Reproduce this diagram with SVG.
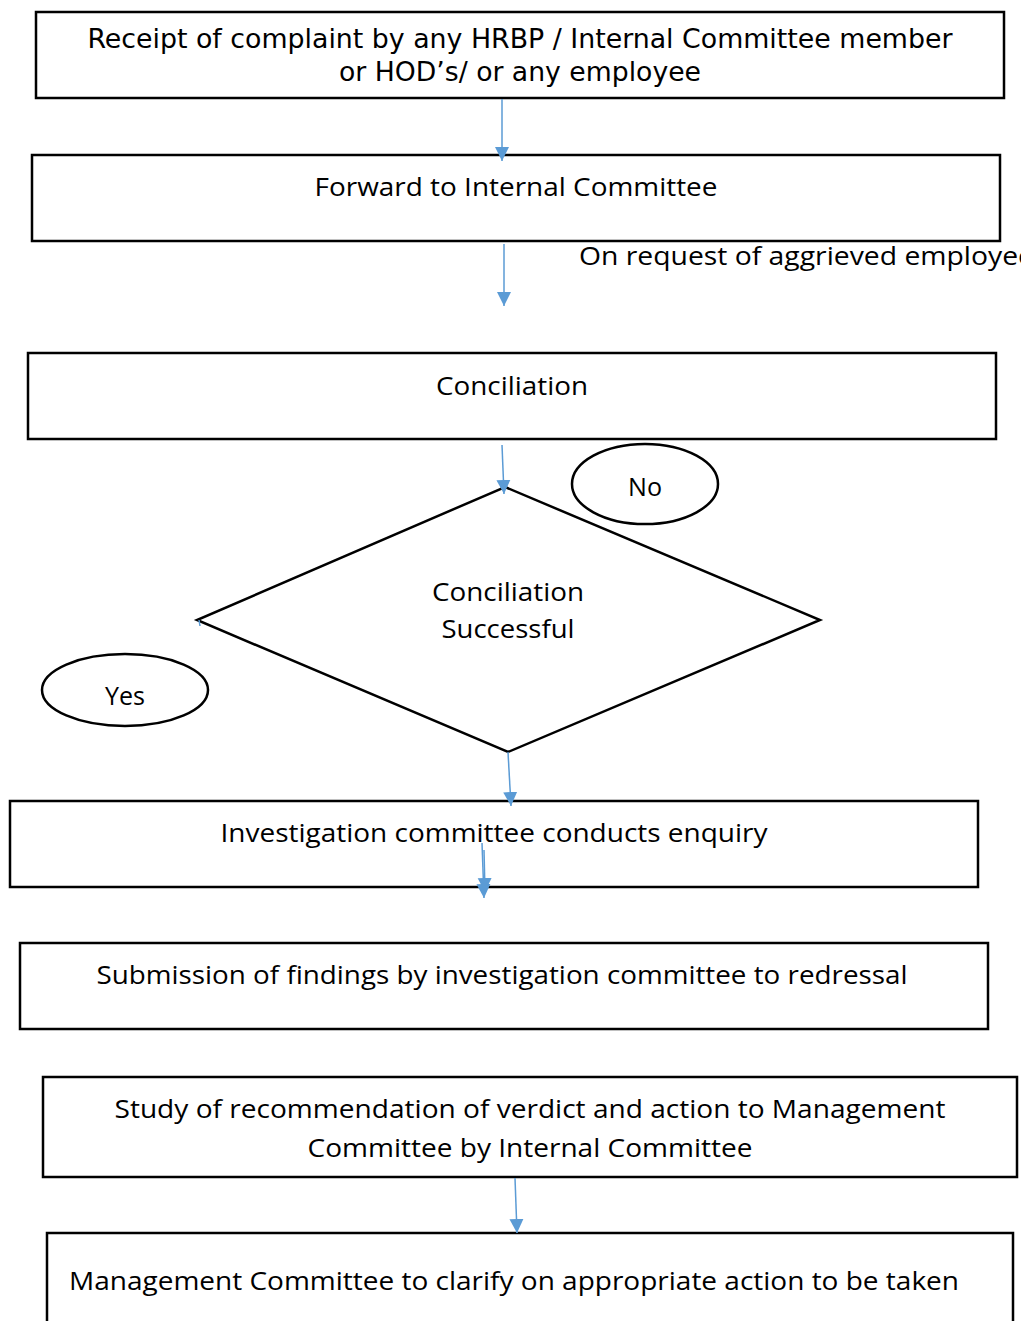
<svg xmlns="http://www.w3.org/2000/svg" width="1021" height="1321" viewBox="0 0 1021 1321">
<style>
.box{fill:#fff;stroke:#000;stroke-width:2.5}
.t{font-family:"Open Sans","Liberation Sans",sans-serif;font-size:26px;fill:#000;text-anchor:middle}
.v{font-family:"DejaVu Sans Condensed","DejaVu Sans",sans-serif;font-size:26px;fill:#000;text-anchor:middle}
.c{stroke:#5B9BD5;stroke-width:1.5;fill:none;marker-end:url(#ah)}
</style>
<defs>
<marker id="ah" markerWidth="14" markerHeight="15" refX="10" refY="5" orient="auto" markerUnits="userSpaceOnUse" viewBox="0 0 10 10">
<path d="M0,0 L10,5 L0,10 z" fill="#5B9BD5"/>
</marker>
</defs>
<rect width="1021" height="1321" fill="#fff"/>
<g id="n1"><rect class="box" x="36" y="12" width="968" height="86"/>
<text class="v" x="520" y="48" textLength="865" lengthAdjust="spacingAndGlyphs">Receipt of complaint by any HRBP / Internal Committee member</text>
<text class="v" x="520" y="81" textLength="362" lengthAdjust="spacingAndGlyphs">or HOD’s/ or any employee</text></g>
<g id="n2"><rect class="box" x="32" y="155" width="968" height="86"/>
<text class="t" x="516" y="196" textLength="403" lengthAdjust="spacingAndGlyphs">Forward to Internal Committee</text></g>
<g id="lbl"><text class="t" x="579" y="265" style="text-anchor:start" textLength="455" lengthAdjust="spacingAndGlyphs">On request of aggrieved employee</text></g>
<g id="n3"><rect class="box" x="28" y="353" width="968" height="86"/>
<text class="t" x="512" y="395" textLength="152" lengthAdjust="spacingAndGlyphs">Conciliation</text></g>
<g id="n4"><polygon class="box" points="505,487 820,620 508,752 197,620"/>
<text class="t" x="508" y="601" textLength="152" lengthAdjust="spacingAndGlyphs">Conciliation</text>
<text class="t" x="508" y="638" textLength="133" lengthAdjust="spacingAndGlyphs">Successful</text></g>
<g id="no"><ellipse class="box" cx="645" cy="484" rx="73" ry="40"/>
<text class="t" x="645" y="496" textLength="34" lengthAdjust="spacingAndGlyphs">No</text></g>
<g id="yes"><ellipse class="box" cx="125" cy="690" rx="83" ry="36"/>
<text class="t" x="125" y="705" textLength="40" lengthAdjust="spacingAndGlyphs">Yes</text></g>
<g id="n5"><rect class="box" x="10" y="801" width="968" height="86"/>
<text class="t" x="494" y="842" textLength="547" lengthAdjust="spacingAndGlyphs">Investigation committee conducts enquiry</text></g>
<g id="n6"><rect class="box" x="20" y="943" width="968" height="86"/>
<text class="t" x="502" y="984" textLength="811" lengthAdjust="spacingAndGlyphs">Submission of findings by investigation committee to redressal</text></g>
<g id="n7"><rect class="box" x="43" y="1077" width="974" height="100"/>
<text class="t" x="530" y="1118" textLength="831" lengthAdjust="spacingAndGlyphs">Study of recommendation of verdict and action to Management</text>
<text class="t" x="530" y="1157" textLength="445" lengthAdjust="spacingAndGlyphs">Committee by Internal Committee</text></g>
<g id="n8"><rect class="box" x="47" y="1233" width="966" height="100"/>
<text class="t" x="514" y="1290" textLength="890" lengthAdjust="spacingAndGlyphs">Management Committee to clarify on appropriate action to be taken</text></g>
<g id="connectors">
<line class="c" x1="502" y1="99" x2="502" y2="161"/>
<line class="c" x1="504" y1="244" x2="504" y2="306"/>
<line class="c" x1="502" y1="445" x2="504" y2="494"/>
<line class="c" x1="508" y1="752" x2="511" y2="806"/>
<line class="c" x1="482" y1="843" x2="484" y2="898"/>
<line class="c" x1="484" y1="850" x2="485" y2="892"/>
<line class="c" x1="515" y1="1178" x2="517" y2="1233"/>
<line x1="199" y1="620" x2="200" y2="626" stroke="#5B9BD5" stroke-width="1.5"/>
</g>
</svg>
